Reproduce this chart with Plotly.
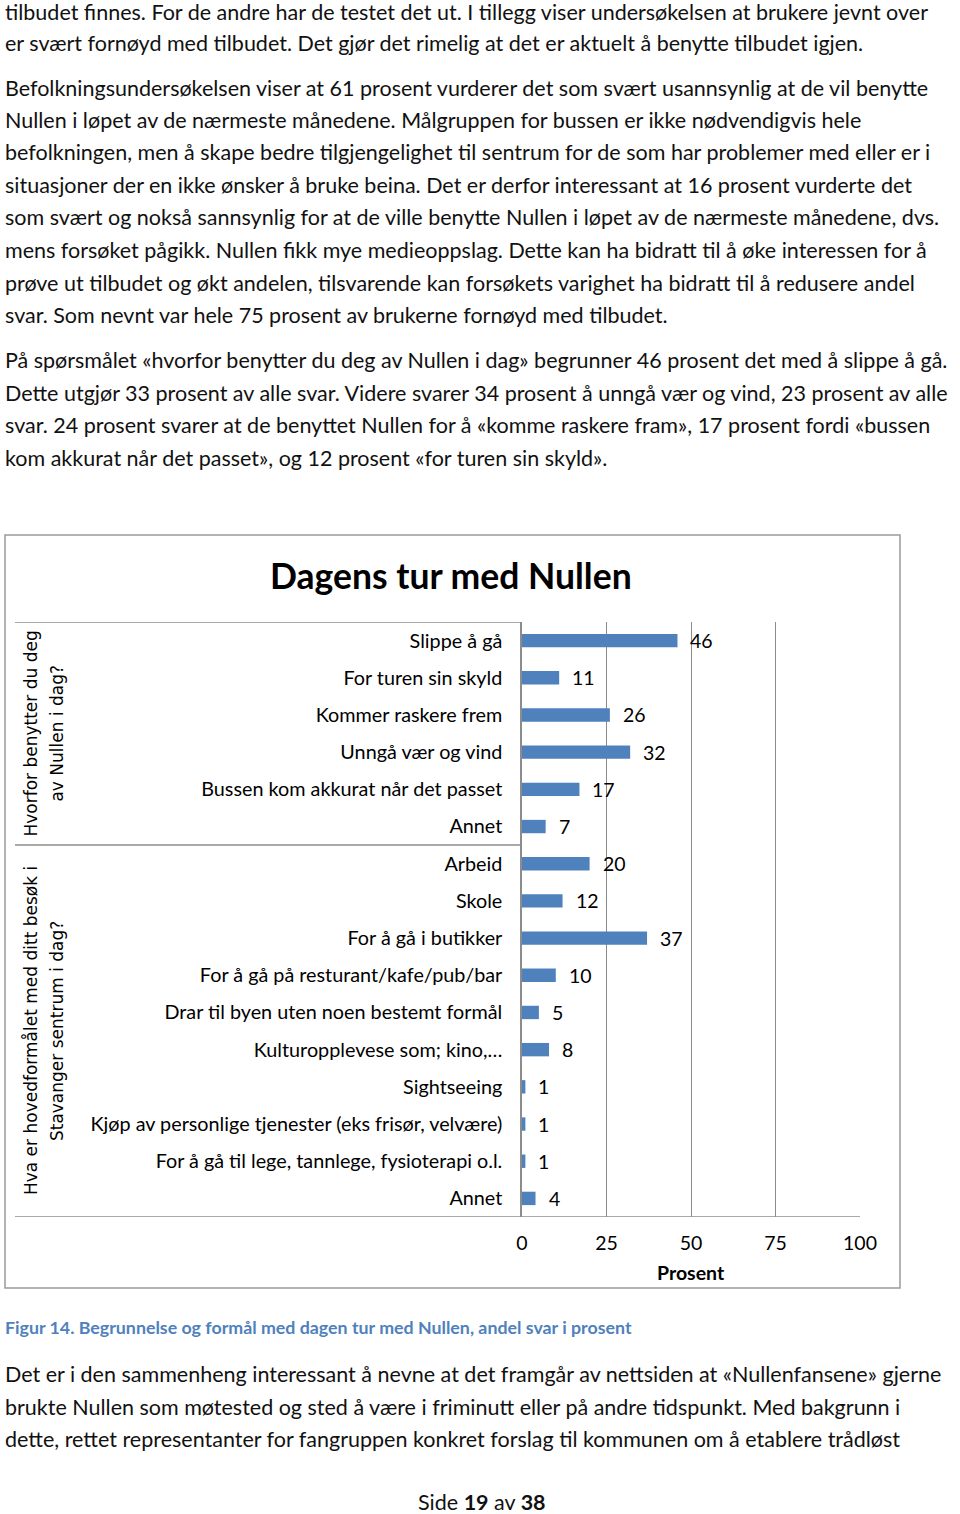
import plotly.graph_objects as go

W, H = 960, 1514

# ---------------- data ----------------
reason_labels = ["Slippe å gå", "For turen sin skyld", "Kommer raskere frem",
                 "Unngå vær og vind", "Bussen kom akkurat når det passet", "Annet"]
reason_values = [46, 11, 26, 32, 17, 7]

purpose_labels = ["Arbeid", "Skole", "For å gå i butikker",
                  "For å gå på resturant/kafe/pub/bar",
                  "Drar til byen uten noen bestemt formål",
                  "Kulturopplevese som; kino,…", "Sightseeing",
                  "Kjøp av personlige tjenester (eks frisør, velvære)",
                  "For å gå til lege, tannlege, fysioterapi o.l.", "Annet"]
purpose_values = [20, 12, 37, 10, 5, 8, 1, 1, 1, 4]

group_titles = [["Hvorfor benytter du deg", "av Nullen i dag?"],
                ["Hva er hovedformålet med ditt besøk i", "Stavanger sentrum i dag?"]]

x_ticks = [0, 25, 50, 75, 100]
chart_title = "Dagens tur med Nullen"
x_title = "Prosent"

para_top = [
    "tilbudet finnes. For de andre har de testet det ut. I tillegg viser undersøkelsen at brukere jevnt over",
    "er svært fornøyd med tilbudet. Det gjør det rimelig at det er aktuelt å benytte tilbudet igjen.",
]
para_2 = [
    "Befolkningsundersøkelsen viser at 61 prosent vurderer det som svært usannsynlig at de vil benytte",
    "Nullen i løpet av de nærmeste månedene. Målgruppen for bussen er ikke nødvendigvis hele",
    "befolkningen, men å skape bedre tilgjengelighet til sentrum for de som har problemer med eller er i",
    "situasjoner der en ikke ønsker å bruke beina. Det er derfor interessant at 16 prosent vurderte det",
    "som svært og nokså sannsynlig for at de ville benytte Nullen i løpet av de nærmeste månedene, dvs.",
    "mens forsøket pågikk. Nullen fikk mye medieoppslag. Dette kan ha bidratt til å øke interessen for å",
    "prøve ut tilbudet og økt andelen, tilsvarende kan forsøkets varighet ha bidratt til å redusere andel",
    "svar. Som nevnt var hele 75 prosent av brukerne fornøyd med tilbudet.",
]
para_3 = [
    "På spørsmålet «hvorfor benytter du deg av Nullen i dag» begrunner 46 prosent det med å slippe å gå.",
    "Dette utgjør 33 prosent av alle svar. Videre svarer 34 prosent å unngå vær og vind, 23 prosent av alle",
    "svar. 24 prosent svarer at de benyttet Nullen for å «komme raskere fram», 17 prosent fordi «bussen",
    "kom akkurat når det passet», og 12 prosent «for turen sin skyld».",
]
caption = "Figur 14. Begrunnelse og formål med dagen tur med Nullen, andel svar i prosent"
para_4 = [
    "Det er i den sammenheng interessant å nevne at det framgår av nettsiden at «Nullenfansene» gjerne",
    "brukte Nullen som møtested og sted å være i friminutt eller på andre tidspunkt. Med bakgrunn i",
    "dette, rettet representanter for fangruppen konkret forslag til kommunen om å etablere trådløst",
]
footer = "Side <b>19</b> av <b>38</b>"

# ---------------- helpers ----------------
def px(x):
    return x / W

def py(y):
    return 1 - y / H

BODY_FONT = "Lato, 'Open Sans', sans-serif"
BAR_COLOR = "#4F81BD"
GRID = "#8c8c8c"

labels = reason_labels + purpose_labels
values = reason_values + purpose_values
ypos = list(range(len(labels)))
n1 = len(reason_labels)

fig = go.Figure()
fig.add_trace(go.Bar(
    x=values, y=ypos, orientation="h", width=0.36,
    marker=dict(color=BAR_COLOR, line=dict(width=0)),
    hoverinfo="skip", showlegend=False,
))

annotations = []
# data labels
for v, yy in zip(values, ypos):
    annotations.append(dict(x=v, y=yy, xref="x", yref="y", text=str(v),
                            showarrow=False, xanchor="left", xshift=11,
                            font=dict(family=BODY_FONT, size=19.5, color="#000")))

# group titles (rotated)
group_centers = [(n1 - 1) / 2, n1 + (len(purpose_labels) - 1) / 2]
for gt, gc in zip(group_titles, group_centers):
    for line, xx in zip(gt, [31, 57]):
        annotations.append(dict(x=px(xx), y=gc, xref="paper", yref="y", text=line,
                                showarrow=False, textangle=-90,
                                xanchor="center", yanchor="middle",
                                font=dict(family="'DejaVu Sans', Verdana, sans-serif",
                                          size=17, color="#000")))

# chart title
annotations.append(dict(x=px(451), y=py(575), xref="paper", yref="paper",
                        text="<b>" + chart_title + "</b>", showarrow=False,
                        xanchor="center", yanchor="middle",
                        font=dict(family=BODY_FONT, size=35.5, color="#000")))
# x axis title
annotations.append(dict(x=50, y=py(1272), xref="x", yref="paper",
                        text="<b>" + x_title + "</b>", showarrow=False,
                        xanchor="center", yanchor="middle",
                        font=dict(family=BODY_FONT, size=19.5, color="#000")))

# body text
def add_lines(lines, ys, size=21.5, color="#111", bold=False):
    for t, yy in zip(lines, ys):
        txt = "<b>" + t + "</b>" if bold else t
        annotations.append(dict(x=px(3), y=py(yy), xref="paper", yref="paper",
                                text=txt, showarrow=False, xanchor="left",
                                yanchor="middle",
                                font=dict(family=BODY_FONT, size=size, color=color)))

add_lines(para_top, [12, 43])
add_lines(para_2, [88, 120, 152, 185, 217, 250, 283, 315])
add_lines(para_3, [360, 393, 425, 458])
add_lines([caption], [1327], size=17.8, color="#4F81BD", bold=True)
add_lines(para_4, [1374, 1407, 1439])
annotations.append(dict(x=px(482), y=py(1502), xref="paper", yref="paper",
                        text=footer, showarrow=False, xanchor="center",
                        yanchor="middle",
                        font=dict(family=BODY_FONT, size=21.5, color="#111")))

shapes = [
    # chart border
    dict(type="rect", xref="paper", yref="paper", x0=px(5), x1=px(900),
         y0=py(1288), y1=py(535), line=dict(color="#9a9a9a", width=1.5)),
    # top line of category area
    dict(type="line", xref="paper", yref="y", x0=px(15), x1=px(522),
         y0=-0.5, y1=-0.5, line=dict(color=GRID, width=1.5)),
    # separator between groups
    dict(type="line", xref="paper", yref="y", x0=px(15), x1=px(522),
         y0=n1 - 0.5, y1=n1 - 0.5, line=dict(color=GRID, width=1.5)),
    # bottom axis line
    dict(type="line", xref="paper", yref="y", x0=px(15), x1=px(860),
         y0=len(labels) - 0.5, y1=len(labels) - 0.5, line=dict(color=GRID, width=1.5)),
]

fig.update_layout(
    width=W, height=H, autosize=False,
    margin=dict(l=0, r=0, t=0, b=0, pad=0, autoexpand=False),
    paper_bgcolor="white", plot_bgcolor="white",
    bargap=0.6,
    xaxis=dict(domain=[px(522), px(860)], range=[0, 100], tickvals=x_ticks,
               showgrid=True, gridcolor=GRID, gridwidth=1, zeroline=False,
               showline=False, ticks="", ticklabelstandoff=12, automargin=False,
               tickfont=dict(family=BODY_FONT, size=19.5, color="#000"),
               anchor="y", fixedrange=True),
    yaxis=dict(domain=[py(1217), py(622)], range=[len(labels) - 0.5, -0.5],
               tickvals=ypos, ticktext=labels, showgrid=False, zeroline=False,
               showline=True, linecolor=GRID, linewidth=1.5, ticks="",
               ticklabelstandoff=14, automargin=False,
               tickfont=dict(family=BODY_FONT, size=19.8, color="#000"),
               anchor="x", fixedrange=True),
    annotations=annotations,
    shapes=shapes,
)

fig.write_html(
    "out.html",
    config={"displayModeBar": False},
    post_script="document.body.style.margin='0';document.body.style.overflow='hidden';"
                "document.documentElement.style.overflow='hidden';",
)
